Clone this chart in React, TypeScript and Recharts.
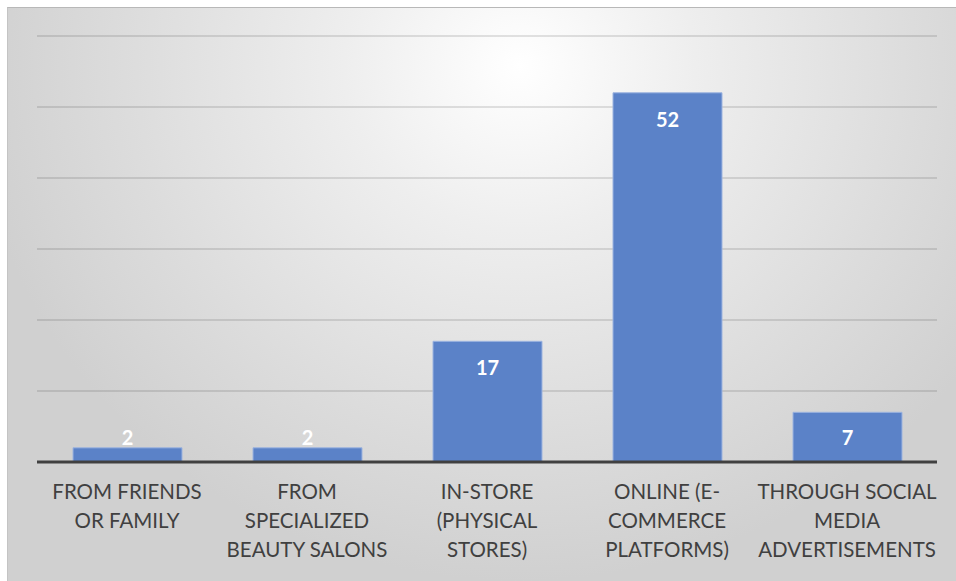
import { BarChart, Bar, XAxis, YAxis, CartesianGrid, LabelList } from "recharts"

const categories = [
  "From friends or family",
  "From specialized beauty salons",
  "In-store (physical stores)",
  "Online (e-commerce platforms)",
  "Through social media advertisements",
]
const counts = [2, 2, 17, 52, 7]
const tickLines = [
  ["FROM FRIENDS", "OR FAMILY"],
  ["FROM", "SPECIALIZED", "BEAUTY SALONS"],
  ["IN-STORE", "(PHYSICAL", "STORES)"],
  ["ONLINE (E-", "COMMERCE", "PLATFORMS)"],
  ["THROUGH SOCIAL", "MEDIA", "ADVERTISEMENTS"],
]
const yTicks = [0, 10, 20, 30, 40, 50, 60]

const chartData = categories.map((name, i) => ({ name, count: counts[i] }))

const FONT = "Lato, 'Open Sans', sans-serif"

function CategoryTick(props: any) {
  const { x, y, index } = props
  const lines = tickLines[index] || []
  return (
    <g transform={`translate(${x},${y})`}>
      {lines.map((line, i) => (
        <text
          key={i}
          x={0}
          y={29 + i * 29}
          textAnchor="middle"
          fontFamily={FONT}
          fontSize={20.5}
          fill="#404040"
        >
          {line}
        </text>
      ))}
    </g>
  )
}

function ValueLabel(props: any) {
  const { x, y, width, height, value } = props
  const cy = Math.min(y + 26, y + height - 25)
  return (
    <text
      x={x + width / 2}
      y={cy}
      textAnchor="middle"
      dominantBaseline="central"
      fontFamily={FONT}
      fontSize={20}
      fontWeight={700}
      fill="#ffffff"
    >
      {value}
    </text>
  )
}

export default function App() {
  return (
    <div
      style={{
        position: "absolute",
        left: 0,
        top: 0,
        width: 956,
        height: 581,
        background: "#ffffff",
      }}
    >
      <div
        style={{
          position: "absolute",
          left: 7,
          top: 7,
          width: 949,
          height: 574,
          borderTop: "1px solid #b8b8b8",
          borderLeft: "1px solid #c4c4c4",
          boxSizing: "border-box",
          background:
            "radial-gradient(ellipse 58% 90% at 54% 10%, #ffffff 0%, #eeeeee 32%, #dcdcdc 72%, #d0d0d0 100%)",
        }}
      />
      <div style={{ position: "absolute", left: 0, top: 0 }}>
        <BarChart
          width={956}
          height={581}
          data={chartData}
          margin={{ top: 36, right: 19, bottom: 0, left: 37 }}
        >
          <YAxis hide domain={[0, 60]} ticks={yTicks} width={0} />
          <Bar
            dataKey="count"
            fill="#5b82c8"
            stroke="#9db4e0"
            strokeWidth={1}
            barSize={109}
            isAnimationActive={false}
          >
            <LabelList dataKey="count" content={<ValueLabel />} />
          </Bar>
          <CartesianGrid
            vertical={false}
            stroke="rgba(0,0,0,0.15)"
            strokeWidth={1.3}
          />
          <XAxis
            dataKey="name"
            height={119}
            axisLine={{ stroke: "#404040", strokeWidth: 3 }}
            tickLine={false}
            tick={<CategoryTick />}
            interval={0}
          />
        </BarChart>
      </div>
    </div>
  )
}
